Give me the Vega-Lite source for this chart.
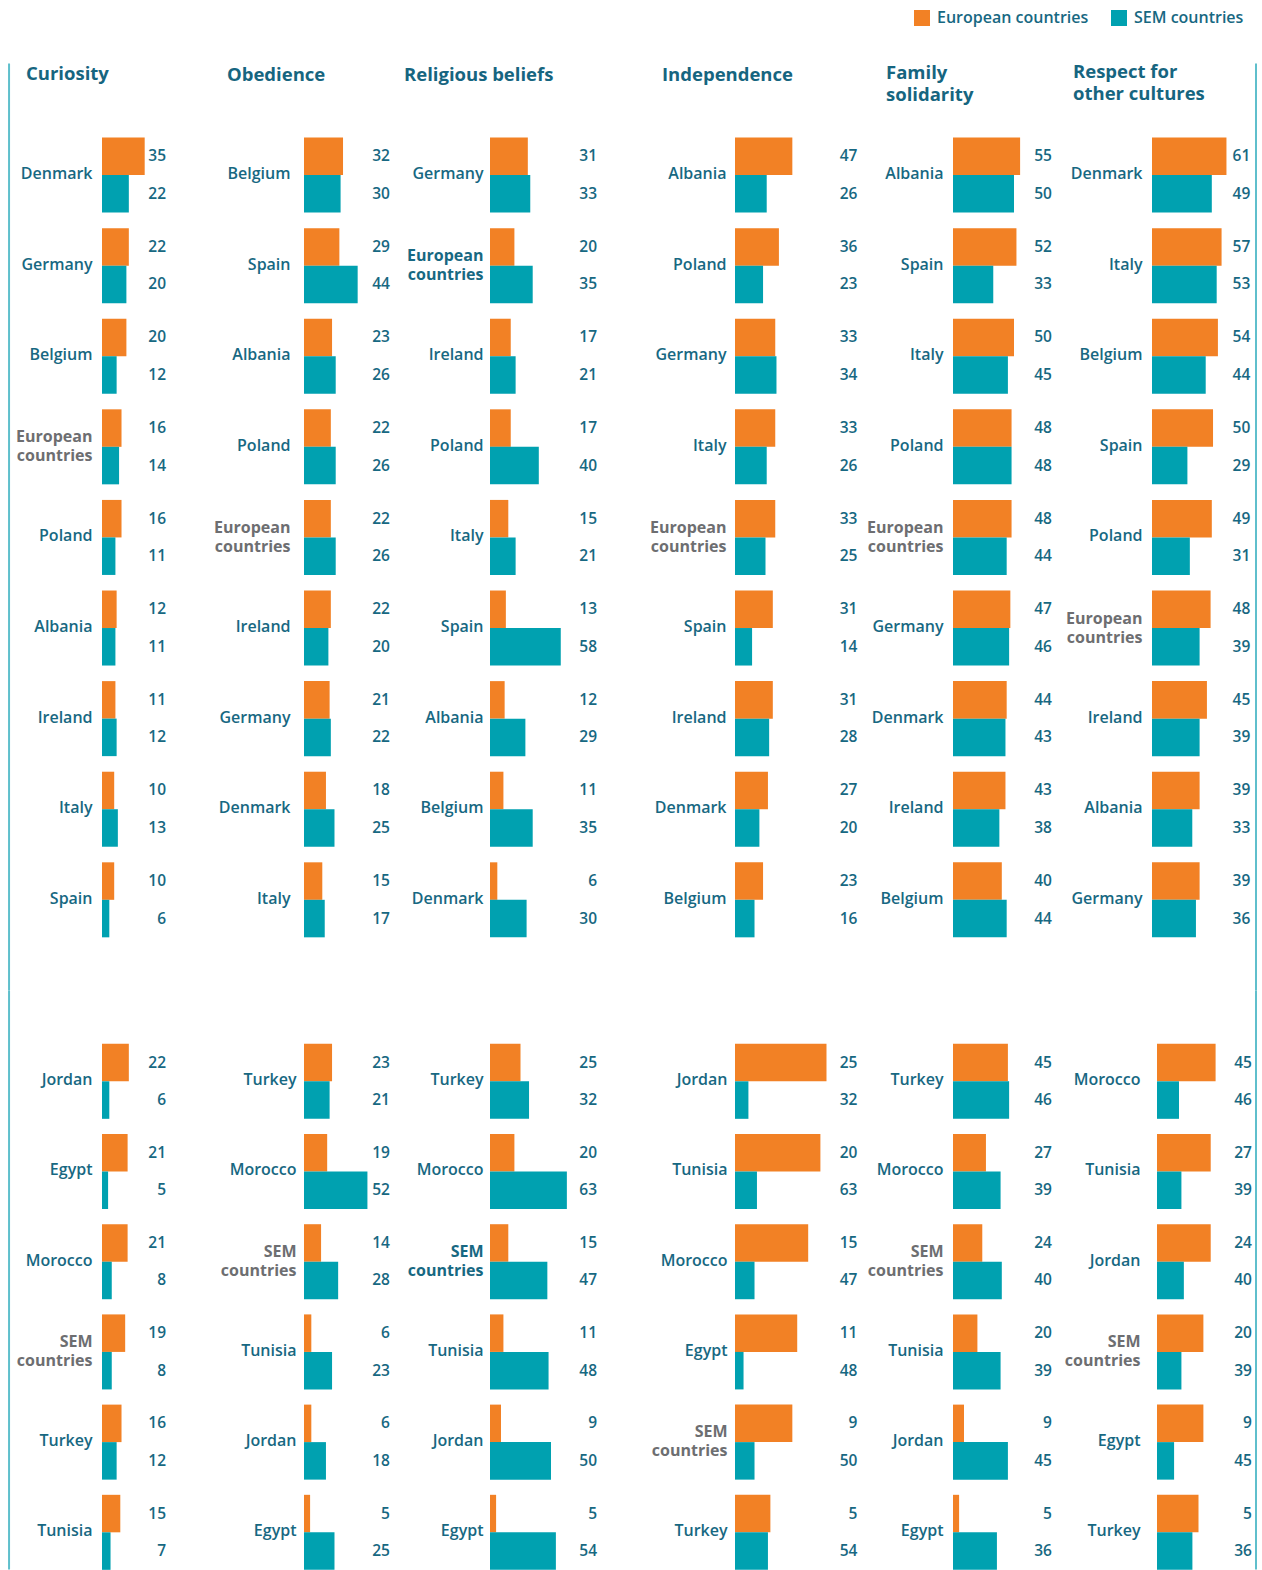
{
  "$schema": "https://vega.github.io/schema/vega-lite/v6.json",
  "padding": {"left": 8, "top": 9.5, "right": 0, "bottom": 0},
  "bounds": "flush",
  "align": "each",
  "columns": 6,
  "spacing": {"row": 0, "column": 0},
  "config": {
    "view": {"stroke": null},
    "legend": {"symbolType": "square", "symbolSize": 256, "symbolStrokeWidth": 0, "labelFont": "Open Sans", "labelFontSize": 16, "labelFontWeight": 600, "labelColor": "#176882", "labelOffset": 7, "columnPadding": 22, "padding": 0, "labelLimit": 400}
  },
  "datasets": {
    "rows": [
      {"attribute":"Curiosity","block":"EU","country":"Denmark","group":"European countries","value":35,"label":35},
      {"attribute":"Curiosity","block":"EU","country":"Denmark","group":"SEM countries","value":22,"label":22},
      {"attribute":"Curiosity","block":"EU","country":"Germany","group":"European countries","value":22,"label":22},
      {"attribute":"Curiosity","block":"EU","country":"Germany","group":"SEM countries","value":20,"label":20},
      {"attribute":"Curiosity","block":"EU","country":"Belgium","group":"European countries","value":20,"label":20},
      {"attribute":"Curiosity","block":"EU","country":"Belgium","group":"SEM countries","value":12,"label":12},
      {"attribute":"Curiosity","block":"EU","country":"European countries","group":"European countries","value":16,"label":16},
      {"attribute":"Curiosity","block":"EU","country":"European countries","group":"SEM countries","value":14,"label":14},
      {"attribute":"Curiosity","block":"EU","country":"Poland","group":"European countries","value":16,"label":16},
      {"attribute":"Curiosity","block":"EU","country":"Poland","group":"SEM countries","value":11,"label":11},
      {"attribute":"Curiosity","block":"EU","country":"Albania","group":"European countries","value":12,"label":12},
      {"attribute":"Curiosity","block":"EU","country":"Albania","group":"SEM countries","value":11,"label":11},
      {"attribute":"Curiosity","block":"EU","country":"Ireland","group":"European countries","value":11,"label":11},
      {"attribute":"Curiosity","block":"EU","country":"Ireland","group":"SEM countries","value":12,"label":12},
      {"attribute":"Curiosity","block":"EU","country":"Italy","group":"European countries","value":10,"label":10},
      {"attribute":"Curiosity","block":"EU","country":"Italy","group":"SEM countries","value":13,"label":13},
      {"attribute":"Curiosity","block":"EU","country":"Spain","group":"European countries","value":10,"label":10},
      {"attribute":"Curiosity","block":"EU","country":"Spain","group":"SEM countries","value":6,"label":6},

      {"attribute":"Obedience","block":"EU","country":"Belgium","group":"European countries","value":32,"label":32},
      {"attribute":"Obedience","block":"EU","country":"Belgium","group":"SEM countries","value":30,"label":30},
      {"attribute":"Obedience","block":"EU","country":"Spain","group":"European countries","value":29,"label":29},
      {"attribute":"Obedience","block":"EU","country":"Spain","group":"SEM countries","value":44,"label":44},
      {"attribute":"Obedience","block":"EU","country":"Albania","group":"European countries","value":23,"label":23},
      {"attribute":"Obedience","block":"EU","country":"Albania","group":"SEM countries","value":26,"label":26},
      {"attribute":"Obedience","block":"EU","country":"Poland","group":"European countries","value":22,"label":22},
      {"attribute":"Obedience","block":"EU","country":"Poland","group":"SEM countries","value":26,"label":26},
      {"attribute":"Obedience","block":"EU","country":"European countries","group":"European countries","value":22,"label":22},
      {"attribute":"Obedience","block":"EU","country":"European countries","group":"SEM countries","value":26,"label":26},
      {"attribute":"Obedience","block":"EU","country":"Ireland","group":"European countries","value":22,"label":22},
      {"attribute":"Obedience","block":"EU","country":"Ireland","group":"SEM countries","value":20,"label":20},
      {"attribute":"Obedience","block":"EU","country":"Germany","group":"European countries","value":21,"label":21},
      {"attribute":"Obedience","block":"EU","country":"Germany","group":"SEM countries","value":22,"label":22},
      {"attribute":"Obedience","block":"EU","country":"Denmark","group":"European countries","value":18,"label":18},
      {"attribute":"Obedience","block":"EU","country":"Denmark","group":"SEM countries","value":25,"label":25},
      {"attribute":"Obedience","block":"EU","country":"Italy","group":"European countries","value":15,"label":15},
      {"attribute":"Obedience","block":"EU","country":"Italy","group":"SEM countries","value":17,"label":17},

      {"attribute":"Religious beliefs","block":"EU","country":"Germany","group":"European countries","value":31,"label":31},
      {"attribute":"Religious beliefs","block":"EU","country":"Germany","group":"SEM countries","value":33,"label":33},
      {"attribute":"Religious beliefs","block":"EU","country":"European countries","group":"European countries","value":20,"label":20},
      {"attribute":"Religious beliefs","block":"EU","country":"European countries","group":"SEM countries","value":35,"label":35},
      {"attribute":"Religious beliefs","block":"EU","country":"Ireland","group":"European countries","value":17,"label":17},
      {"attribute":"Religious beliefs","block":"EU","country":"Ireland","group":"SEM countries","value":21,"label":21},
      {"attribute":"Religious beliefs","block":"EU","country":"Poland","group":"European countries","value":17,"label":17},
      {"attribute":"Religious beliefs","block":"EU","country":"Poland","group":"SEM countries","value":40,"label":40},
      {"attribute":"Religious beliefs","block":"EU","country":"Italy","group":"European countries","value":15,"label":15},
      {"attribute":"Religious beliefs","block":"EU","country":"Italy","group":"SEM countries","value":21,"label":21},
      {"attribute":"Religious beliefs","block":"EU","country":"Spain","group":"European countries","value":13,"label":13},
      {"attribute":"Religious beliefs","block":"EU","country":"Spain","group":"SEM countries","value":58,"label":58},
      {"attribute":"Religious beliefs","block":"EU","country":"Albania","group":"European countries","value":12,"label":12},
      {"attribute":"Religious beliefs","block":"EU","country":"Albania","group":"SEM countries","value":29,"label":29},
      {"attribute":"Religious beliefs","block":"EU","country":"Belgium","group":"European countries","value":11,"label":11},
      {"attribute":"Religious beliefs","block":"EU","country":"Belgium","group":"SEM countries","value":35,"label":35},
      {"attribute":"Religious beliefs","block":"EU","country":"Denmark","group":"European countries","value":6,"label":6},
      {"attribute":"Religious beliefs","block":"EU","country":"Denmark","group":"SEM countries","value":30,"label":30},

      {"attribute":"Independence","block":"EU","country":"Albania","group":"European countries","value":47,"label":47},
      {"attribute":"Independence","block":"EU","country":"Albania","group":"SEM countries","value":26,"label":26},
      {"attribute":"Independence","block":"EU","country":"Poland","group":"European countries","value":36,"label":36},
      {"attribute":"Independence","block":"EU","country":"Poland","group":"SEM countries","value":23,"label":23},
      {"attribute":"Independence","block":"EU","country":"Germany","group":"European countries","value":33,"label":33},
      {"attribute":"Independence","block":"EU","country":"Germany","group":"SEM countries","value":34,"label":34},
      {"attribute":"Independence","block":"EU","country":"Italy","group":"European countries","value":33,"label":33},
      {"attribute":"Independence","block":"EU","country":"Italy","group":"SEM countries","value":26,"label":26},
      {"attribute":"Independence","block":"EU","country":"European countries","group":"European countries","value":33,"label":33},
      {"attribute":"Independence","block":"EU","country":"European countries","group":"SEM countries","value":25,"label":25},
      {"attribute":"Independence","block":"EU","country":"Spain","group":"European countries","value":31,"label":31},
      {"attribute":"Independence","block":"EU","country":"Spain","group":"SEM countries","value":14,"label":14},
      {"attribute":"Independence","block":"EU","country":"Ireland","group":"European countries","value":31,"label":31},
      {"attribute":"Independence","block":"EU","country":"Ireland","group":"SEM countries","value":28,"label":28},
      {"attribute":"Independence","block":"EU","country":"Denmark","group":"European countries","value":27,"label":27},
      {"attribute":"Independence","block":"EU","country":"Denmark","group":"SEM countries","value":20,"label":20},
      {"attribute":"Independence","block":"EU","country":"Belgium","group":"European countries","value":23,"label":23},
      {"attribute":"Independence","block":"EU","country":"Belgium","group":"SEM countries","value":16,"label":16},

      {"attribute":"Family solidarity","block":"EU","country":"Albania","group":"European countries","value":55,"label":55},
      {"attribute":"Family solidarity","block":"EU","country":"Albania","group":"SEM countries","value":50,"label":50},
      {"attribute":"Family solidarity","block":"EU","country":"Spain","group":"European countries","value":52,"label":52},
      {"attribute":"Family solidarity","block":"EU","country":"Spain","group":"SEM countries","value":33,"label":33},
      {"attribute":"Family solidarity","block":"EU","country":"Italy","group":"European countries","value":50,"label":50},
      {"attribute":"Family solidarity","block":"EU","country":"Italy","group":"SEM countries","value":45,"label":45},
      {"attribute":"Family solidarity","block":"EU","country":"Poland","group":"European countries","value":48,"label":48},
      {"attribute":"Family solidarity","block":"EU","country":"Poland","group":"SEM countries","value":48,"label":48},
      {"attribute":"Family solidarity","block":"EU","country":"European countries","group":"European countries","value":48,"label":48},
      {"attribute":"Family solidarity","block":"EU","country":"European countries","group":"SEM countries","value":44,"label":44},
      {"attribute":"Family solidarity","block":"EU","country":"Germany","group":"European countries","value":47,"label":47},
      {"attribute":"Family solidarity","block":"EU","country":"Germany","group":"SEM countries","value":46,"label":46},
      {"attribute":"Family solidarity","block":"EU","country":"Denmark","group":"European countries","value":44,"label":44},
      {"attribute":"Family solidarity","block":"EU","country":"Denmark","group":"SEM countries","value":43,"label":43},
      {"attribute":"Family solidarity","block":"EU","country":"Ireland","group":"European countries","value":43,"label":43},
      {"attribute":"Family solidarity","block":"EU","country":"Ireland","group":"SEM countries","value":38,"label":38},
      {"attribute":"Family solidarity","block":"EU","country":"Belgium","group":"European countries","value":40,"label":40},
      {"attribute":"Family solidarity","block":"EU","country":"Belgium","group":"SEM countries","value":44,"label":44},

      {"attribute":"Respect for other cultures","block":"EU","country":"Denmark","group":"European countries","value":61,"label":61},
      {"attribute":"Respect for other cultures","block":"EU","country":"Denmark","group":"SEM countries","value":49,"label":49},
      {"attribute":"Respect for other cultures","block":"EU","country":"Italy","group":"European countries","value":57,"label":57},
      {"attribute":"Respect for other cultures","block":"EU","country":"Italy","group":"SEM countries","value":53,"label":53},
      {"attribute":"Respect for other cultures","block":"EU","country":"Belgium","group":"European countries","value":54,"label":54},
      {"attribute":"Respect for other cultures","block":"EU","country":"Belgium","group":"SEM countries","value":44,"label":44},
      {"attribute":"Respect for other cultures","block":"EU","country":"Spain","group":"European countries","value":50,"label":50},
      {"attribute":"Respect for other cultures","block":"EU","country":"Spain","group":"SEM countries","value":29,"label":29},
      {"attribute":"Respect for other cultures","block":"EU","country":"Poland","group":"European countries","value":49,"label":49},
      {"attribute":"Respect for other cultures","block":"EU","country":"Poland","group":"SEM countries","value":31,"label":31},
      {"attribute":"Respect for other cultures","block":"EU","country":"European countries","group":"European countries","value":48,"label":48},
      {"attribute":"Respect for other cultures","block":"EU","country":"European countries","group":"SEM countries","value":39,"label":39},
      {"attribute":"Respect for other cultures","block":"EU","country":"Ireland","group":"European countries","value":45,"label":45},
      {"attribute":"Respect for other cultures","block":"EU","country":"Ireland","group":"SEM countries","value":39,"label":39},
      {"attribute":"Respect for other cultures","block":"EU","country":"Albania","group":"European countries","value":39,"label":39},
      {"attribute":"Respect for other cultures","block":"EU","country":"Albania","group":"SEM countries","value":33,"label":33},
      {"attribute":"Respect for other cultures","block":"EU","country":"Germany","group":"European countries","value":39,"label":39},
      {"attribute":"Respect for other cultures","block":"EU","country":"Germany","group":"SEM countries","value":36,"label":36},

      {"attribute":"Curiosity","block":"SEM","country":"Jordan","group":"European countries","value":22,"label":22},
      {"attribute":"Curiosity","block":"SEM","country":"Jordan","group":"SEM countries","value":6,"label":6},
      {"attribute":"Curiosity","block":"SEM","country":"Egypt","group":"European countries","value":21,"label":21},
      {"attribute":"Curiosity","block":"SEM","country":"Egypt","group":"SEM countries","value":5,"label":5},
      {"attribute":"Curiosity","block":"SEM","country":"Morocco","group":"European countries","value":21,"label":21},
      {"attribute":"Curiosity","block":"SEM","country":"Morocco","group":"SEM countries","value":8,"label":8},
      {"attribute":"Curiosity","block":"SEM","country":"SEM countries","group":"European countries","value":19,"label":19},
      {"attribute":"Curiosity","block":"SEM","country":"SEM countries","group":"SEM countries","value":8,"label":8},
      {"attribute":"Curiosity","block":"SEM","country":"Turkey","group":"European countries","value":16,"label":16},
      {"attribute":"Curiosity","block":"SEM","country":"Turkey","group":"SEM countries","value":12,"label":12},
      {"attribute":"Curiosity","block":"SEM","country":"Tunisia","group":"European countries","value":15,"label":15},
      {"attribute":"Curiosity","block":"SEM","country":"Tunisia","group":"SEM countries","value":7,"label":7},

      {"attribute":"Obedience","block":"SEM","country":"Turkey","group":"European countries","value":23,"label":23},
      {"attribute":"Obedience","block":"SEM","country":"Turkey","group":"SEM countries","value":21,"label":21},
      {"attribute":"Obedience","block":"SEM","country":"Morocco","group":"European countries","value":19,"label":19},
      {"attribute":"Obedience","block":"SEM","country":"Morocco","group":"SEM countries","value":52,"label":52},
      {"attribute":"Obedience","block":"SEM","country":"SEM countries","group":"European countries","value":14,"label":14},
      {"attribute":"Obedience","block":"SEM","country":"SEM countries","group":"SEM countries","value":28,"label":28},
      {"attribute":"Obedience","block":"SEM","country":"Tunisia","group":"European countries","value":6,"label":6},
      {"attribute":"Obedience","block":"SEM","country":"Tunisia","group":"SEM countries","value":23,"label":23},
      {"attribute":"Obedience","block":"SEM","country":"Jordan","group":"European countries","value":6,"label":6},
      {"attribute":"Obedience","block":"SEM","country":"Jordan","group":"SEM countries","value":18,"label":18},
      {"attribute":"Obedience","block":"SEM","country":"Egypt","group":"European countries","value":5,"label":5},
      {"attribute":"Obedience","block":"SEM","country":"Egypt","group":"SEM countries","value":25,"label":25},

      {"attribute":"Religious beliefs","block":"SEM","country":"Turkey","group":"European countries","value":25,"label":25},
      {"attribute":"Religious beliefs","block":"SEM","country":"Turkey","group":"SEM countries","value":32,"label":32},
      {"attribute":"Religious beliefs","block":"SEM","country":"Morocco","group":"European countries","value":20,"label":20},
      {"attribute":"Religious beliefs","block":"SEM","country":"Morocco","group":"SEM countries","value":63,"label":63},
      {"attribute":"Religious beliefs","block":"SEM","country":"SEM countries","group":"European countries","value":15,"label":15},
      {"attribute":"Religious beliefs","block":"SEM","country":"SEM countries","group":"SEM countries","value":47,"label":47},
      {"attribute":"Religious beliefs","block":"SEM","country":"Tunisia","group":"European countries","value":11,"label":11},
      {"attribute":"Religious beliefs","block":"SEM","country":"Tunisia","group":"SEM countries","value":48,"label":48},
      {"attribute":"Religious beliefs","block":"SEM","country":"Jordan","group":"European countries","value":9,"label":9},
      {"attribute":"Religious beliefs","block":"SEM","country":"Jordan","group":"SEM countries","value":50,"label":50},
      {"attribute":"Religious beliefs","block":"SEM","country":"Egypt","group":"European countries","value":5,"label":5},
      {"attribute":"Religious beliefs","block":"SEM","country":"Egypt","group":"SEM countries","value":54,"label":54},

      {"attribute":"Independence","block":"SEM","country":"Jordan","group":"European countries","value":75,"label":25},
      {"attribute":"Independence","block":"SEM","country":"Jordan","group":"SEM countries","value":11,"label":32},
      {"attribute":"Independence","block":"SEM","country":"Tunisia","group":"European countries","value":70,"label":20},
      {"attribute":"Independence","block":"SEM","country":"Tunisia","group":"SEM countries","value":18,"label":63},
      {"attribute":"Independence","block":"SEM","country":"Morocco","group":"European countries","value":60,"label":15},
      {"attribute":"Independence","block":"SEM","country":"Morocco","group":"SEM countries","value":16,"label":47},
      {"attribute":"Independence","block":"SEM","country":"Egypt","group":"European countries","value":51,"label":11},
      {"attribute":"Independence","block":"SEM","country":"Egypt","group":"SEM countries","value":7,"label":48},
      {"attribute":"Independence","block":"SEM","country":"SEM countries","group":"European countries","value":47,"label":9},
      {"attribute":"Independence","block":"SEM","country":"SEM countries","group":"SEM countries","value":16,"label":50},
      {"attribute":"Independence","block":"SEM","country":"Turkey","group":"European countries","value":29,"label":5},
      {"attribute":"Independence","block":"SEM","country":"Turkey","group":"SEM countries","value":27,"label":54},

      {"attribute":"Family solidarity","block":"SEM","country":"Turkey","group":"European countries","value":45,"label":45},
      {"attribute":"Family solidarity","block":"SEM","country":"Turkey","group":"SEM countries","value":46,"label":46},
      {"attribute":"Family solidarity","block":"SEM","country":"Morocco","group":"European countries","value":27,"label":27},
      {"attribute":"Family solidarity","block":"SEM","country":"Morocco","group":"SEM countries","value":39,"label":39},
      {"attribute":"Family solidarity","block":"SEM","country":"SEM countries","group":"European countries","value":24,"label":24},
      {"attribute":"Family solidarity","block":"SEM","country":"SEM countries","group":"SEM countries","value":40,"label":40},
      {"attribute":"Family solidarity","block":"SEM","country":"Tunisia","group":"European countries","value":20,"label":20},
      {"attribute":"Family solidarity","block":"SEM","country":"Tunisia","group":"SEM countries","value":39,"label":39},
      {"attribute":"Family solidarity","block":"SEM","country":"Jordan","group":"European countries","value":9,"label":9},
      {"attribute":"Family solidarity","block":"SEM","country":"Jordan","group":"SEM countries","value":45,"label":45},
      {"attribute":"Family solidarity","block":"SEM","country":"Egypt","group":"European countries","value":5,"label":5},
      {"attribute":"Family solidarity","block":"SEM","country":"Egypt","group":"SEM countries","value":36,"label":36},

      {"attribute":"Respect for other cultures","block":"SEM","country":"Morocco","group":"European countries","value":48,"label":45},
      {"attribute":"Respect for other cultures","block":"SEM","country":"Morocco","group":"SEM countries","value":18,"label":46},
      {"attribute":"Respect for other cultures","block":"SEM","country":"Tunisia","group":"European countries","value":44,"label":27},
      {"attribute":"Respect for other cultures","block":"SEM","country":"Tunisia","group":"SEM countries","value":20,"label":39},
      {"attribute":"Respect for other cultures","block":"SEM","country":"Jordan","group":"European countries","value":44,"label":24},
      {"attribute":"Respect for other cultures","block":"SEM","country":"Jordan","group":"SEM countries","value":22,"label":40},
      {"attribute":"Respect for other cultures","block":"SEM","country":"SEM countries","group":"European countries","value":38,"label":20},
      {"attribute":"Respect for other cultures","block":"SEM","country":"SEM countries","group":"SEM countries","value":20,"label":39},
      {"attribute":"Respect for other cultures","block":"SEM","country":"Egypt","group":"European countries","value":38,"label":9},
      {"attribute":"Respect for other cultures","block":"SEM","country":"Egypt","group":"SEM countries","value":14,"label":45},
      {"attribute":"Respect for other cultures","block":"SEM","country":"Turkey","group":"European countries","value":34,"label":5},
      {"attribute":"Respect for other cultures","block":"SEM","country":"Turkey","group":"SEM countries","value":29,"label":36}
    ]
  },
  "concat": [
    {
      "width": 202, "height": 927,
      "title": {"text": "Curiosity", "anchor": "start", "frame": "group", "orient": "top", "offset": 0, "dx": -76, "dy": 20.5, "font": "Open Sans", "fontSize": 18.5, "fontWeight": 700, "color": "#166580", "lineHeight": 22},
      "layer": [
        {
          "data": {"name": "rows"},
          "transform": [{"filter": "datum.attribute == 'Curiosity' && datum.block == 'EU'"}],
          "encoding": {
            "y": {"field": "country", "type": "nominal", "sort": null, "scale": {"paddingInner": 0.172, "paddingOuter": 0.702, "align": 0.582},
              "axis": {"title": null, "domain": false, "ticks": false, "grid": false, "labelPadding": 10, "labelFont": "Open Sans", "labelFontSize": 16, "labelFontWeight": {"condition": {"test": "datum.label == 'European countries' || datum.label == 'SEM countries'", "value": 700}, "value": 600}, "labelOffset": {"condition": {"test": "datum.label == 'European countries' || datum.label == 'SEM countries'", "value": -9.5}, "value": -1}, "labelLimit": 300, "labelLineHeight": 19, "labelColor": {"condition": {"test": "datum.label == 'European countries' || datum.label == 'SEM countries'", "value": "#6d6e71"}, "value": "#176882"}, "labelExpr": "datum.label == 'European countries' ? ['European', 'countries'] : datum.label == 'SEM countries' ? ['SEM', 'countries'] : datum.label"}},
            "yOffset": {"field": "group", "type": "nominal", "sort": ["European countries", "SEM countries"], "scale": {"paddingInner": 0, "paddingOuter": 0}}
          },
          "layer": [
            {"mark": {"type": "bar"}, "encoding": {"x": {"field": "value", "type": "quantitative", "scale": {"domain": [0, 165.6], "nice": false, "zero": true}, "axis": null}, "color": {"field": "group", "type": "nominal", "scale": {"domain": ["European countries", "SEM countries"], "range": ["#f28125", "#00a1b0"]}, "legend": {"title": null, "orient": "none", "legendX": 812, "legendY": -53.5, "direction": "horizontal"}}}},
            {"mark": {"type": "text", "align": "right", "baseline": "middle", "font": "Open Sans", "fontSize": 15.5, "fontWeight": 600, "color": "#176882"}, "encoding": {"x": {"datum": 52.5, "type": "quantitative", "axis": null}, "text": {"field": "label", "type": "quantitative"}}}
          ]
        },
        {"data": {"values": [{}]}, "mark": {"type": "rule", "color": "#5fbfcc", "strokeWidth": 2}, "encoding": {"x": {"datum": -76.2, "type": "quantitative", "axis": null}}}
      ]
    },
    {
      "width": 186, "height": 927,
      "title": {"text": "Obedience", "anchor": "start", "frame": "group", "orient": "top", "offset": 0, "dx": -77, "dy": 20.5, "font": "Open Sans", "fontSize": 18.5, "fontWeight": 700, "color": "#166580", "lineHeight": 22},
      "data": {"name": "rows"},
      "transform": [{"filter": "datum.attribute == 'Obedience' && datum.block == 'EU'"}],
      "encoding": {
        "y": {"field": "country", "type": "nominal", "sort": null, "scale": {"paddingInner": 0.172, "paddingOuter": 0.702, "align": 0.582},
          "axis": {"title": null, "domain": false, "ticks": false, "grid": false, "labelPadding": 14, "labelFont": "Open Sans", "labelFontSize": 16, "labelFontWeight": {"condition": {"test": "datum.label == 'European countries' || datum.label == 'SEM countries'", "value": 700}, "value": 600}, "labelOffset": {"condition": {"test": "datum.label == 'European countries' || datum.label == 'SEM countries'", "value": -9.5}, "value": -1}, "labelLimit": 300, "labelLineHeight": 19, "labelColor": {"condition": {"test": "datum.label == 'European countries' || datum.label == 'SEM countries'", "value": "#6d6e71"}, "value": "#176882"}, "labelExpr": "datum.label == 'European countries' ? ['European', 'countries'] : datum.label == 'SEM countries' ? ['SEM', 'countries'] : datum.label"}},
        "yOffset": {"field": "group", "type": "nominal", "sort": ["European countries", "SEM countries"], "scale": {"paddingInner": 0, "paddingOuter": 0}}
      },
      "layer": [
        {"mark": {"type": "bar"}, "encoding": {"x": {"field": "value", "type": "quantitative", "scale": {"domain": [0, 152.5], "nice": false, "zero": true}, "axis": null}, "color": {"field": "group", "type": "nominal", "scale": {"domain": ["European countries", "SEM countries"], "range": ["#f28125", "#00a1b0"]}, "legend": {"title": null, "orient": "none", "legendX": 812, "legendY": -53.5, "direction": "horizontal"}}}},
        {"mark": {"type": "text", "align": "right", "baseline": "middle", "font": "Open Sans", "fontSize": 15.5, "fontWeight": 600, "color": "#176882"}, "encoding": {"x": {"datum": 70.5, "type": "quantitative", "axis": null}, "text": {"field": "label", "type": "quantitative"}}}
      ]
    },
    {
      "width": 245, "height": 927,
      "title": {"text": "Religious beliefs", "anchor": "start", "frame": "group", "orient": "top", "offset": 0, "dx": -86, "dy": 20.5, "font": "Open Sans", "fontSize": 18.5, "fontWeight": 700, "color": "#166580", "lineHeight": 22},
      "data": {"name": "rows"},
      "transform": [{"filter": "datum.attribute == 'Religious beliefs' && datum.block == 'EU'"}],
      "encoding": {
        "y": {"field": "country", "type": "nominal", "sort": null, "scale": {"paddingInner": 0.172, "paddingOuter": 0.702, "align": 0.582},
          "axis": {"title": null, "domain": false, "ticks": false, "grid": false, "labelPadding": 7, "labelFont": "Open Sans", "labelFontSize": 16, "labelFontWeight": {"condition": {"test": "datum.label == 'European countries' || datum.label == 'SEM countries'", "value": 700}, "value": 600}, "labelOffset": {"condition": {"test": "datum.label == 'European countries' || datum.label == 'SEM countries'", "value": -9.5}, "value": -1}, "labelLimit": 300, "labelLineHeight": 19, "labelColor": "#176882", "labelExpr": "datum.label == 'European countries' ? ['European', 'countries'] : datum.label == 'SEM countries' ? ['SEM', 'countries'] : datum.label"}},
        "yOffset": {"field": "group", "type": "nominal", "sort": ["European countries", "SEM countries"], "scale": {"paddingInner": 0, "paddingOuter": 0}}
      },
      "layer": [
        {"mark": {"type": "bar"}, "encoding": {"x": {"field": "value", "type": "quantitative", "scale": {"domain": [0, 200.8], "nice": false, "zero": true}, "axis": null}, "color": {"field": "group", "type": "nominal", "scale": {"domain": ["European countries", "SEM countries"], "range": ["#f28125", "#00a1b0"]}, "legend": {"title": null, "orient": "none", "legendX": 812, "legendY": -53.5, "direction": "horizontal"}}}},
        {"mark": {"type": "text", "align": "right", "baseline": "middle", "font": "Open Sans", "fontSize": 15.5, "fontWeight": 600, "color": "#176882"}, "encoding": {"x": {"datum": 87.7, "type": "quantitative", "axis": null}, "text": {"field": "label", "type": "quantitative"}}}
      ]
    },
    {
      "width": 218, "height": 927,
      "title": {"text": "Independence", "anchor": "start", "frame": "group", "orient": "top", "offset": 0, "dx": -73, "dy": 20.5, "font": "Open Sans", "fontSize": 18.5, "fontWeight": 700, "color": "#166580", "lineHeight": 22},
      "data": {"name": "rows"},
      "transform": [{"filter": "datum.attribute == 'Independence' && datum.block == 'EU'"}],
      "encoding": {
        "y": {"field": "country", "type": "nominal", "sort": null, "scale": {"paddingInner": 0.172, "paddingOuter": 0.702, "align": 0.582},
          "axis": {"title": null, "domain": false, "ticks": false, "grid": false, "labelPadding": 9, "labelFont": "Open Sans", "labelFontSize": 16, "labelFontWeight": {"condition": {"test": "datum.label == 'European countries' || datum.label == 'SEM countries'", "value": 700}, "value": 600}, "labelOffset": {"condition": {"test": "datum.label == 'European countries' || datum.label == 'SEM countries'", "value": -9.5}, "value": -1}, "labelLimit": 300, "labelLineHeight": 19, "labelColor": {"condition": {"test": "datum.label == 'European countries' || datum.label == 'SEM countries'", "value": "#6d6e71"}, "value": "#176882"}, "labelExpr": "datum.label == 'European countries' ? ['European', 'countries'] : datum.label == 'SEM countries' ? ['SEM', 'countries'] : datum.label"}},
        "yOffset": {"field": "group", "type": "nominal", "sort": ["European countries", "SEM countries"], "scale": {"paddingInner": 0, "paddingOuter": 0}}
      },
      "layer": [
        {"mark": {"type": "bar"}, "encoding": {"x": {"field": "value", "type": "quantitative", "scale": {"domain": [0, 178.7], "nice": false, "zero": true}, "axis": null}, "color": {"field": "group", "type": "nominal", "scale": {"domain": ["European countries", "SEM countries"], "range": ["#f28125", "#00a1b0"]}, "legend": {"title": null, "orient": "none", "legendX": 812, "legendY": -53.5, "direction": "horizontal"}}}},
        {"mark": {"type": "text", "align": "right", "baseline": "middle", "font": "Open Sans", "fontSize": 15.5, "fontWeight": 600, "color": "#176882"}, "encoding": {"x": {"datum": 100.4, "type": "quantitative", "axis": null}, "text": {"field": "label", "type": "quantitative"}}}
      ]
    },
    {
      "width": 199, "height": 927,
      "title": {"text": ["Family", "solidarity"], "anchor": "start", "frame": "group", "orient": "top", "offset": 0, "dx": -67, "dy": 41, "font": "Open Sans", "fontSize": 18.5, "fontWeight": 700, "color": "#166580", "lineHeight": 22},
      "data": {"name": "rows"},
      "transform": [{"filter": "datum.attribute == 'Family solidarity' && datum.block == 'EU'"}],
      "encoding": {
        "y": {"field": "country", "type": "nominal", "sort": null, "scale": {"paddingInner": 0.172, "paddingOuter": 0.702, "align": 0.582},
          "axis": {"title": null, "domain": false, "ticks": false, "grid": false, "labelPadding": 10, "labelFont": "Open Sans", "labelFontSize": 16, "labelFontWeight": {"condition": {"test": "datum.label == 'European countries' || datum.label == 'SEM countries'", "value": 700}, "value": 600}, "labelOffset": {"condition": {"test": "datum.label == 'European countries' || datum.label == 'SEM countries'", "value": -9.5}, "value": -1}, "labelLimit": 300, "labelLineHeight": 19, "labelColor": {"condition": {"test": "datum.label == 'European countries' || datum.label == 'SEM countries'", "value": "#6d6e71"}, "value": "#176882"}, "labelExpr": "datum.label == 'European countries' ? ['European', 'countries'] : datum.label == 'SEM countries' ? ['SEM', 'countries'] : datum.label"}},
        "yOffset": {"field": "group", "type": "nominal", "sort": ["European countries", "SEM countries"], "scale": {"paddingInner": 0, "paddingOuter": 0}}
      },
      "layer": [
        {"mark": {"type": "bar"}, "encoding": {"x": {"field": "value", "type": "quantitative", "scale": {"domain": [0, 163.1], "nice": false, "zero": true}, "axis": null}, "color": {"field": "group", "type": "nominal", "scale": {"domain": ["European countries", "SEM countries"], "range": ["#f28125", "#00a1b0"]}, "legend": {"title": null, "orient": "none", "legendX": 812, "legendY": -53.5, "direction": "horizontal"}}}},
        {"mark": {"type": "text", "align": "right", "baseline": "middle", "font": "Open Sans", "fontSize": 15.5, "fontWeight": 600, "color": "#176882"}, "encoding": {"x": {"datum": 81.1, "type": "quantitative", "axis": null}, "text": {"field": "label", "type": "quantitative"}}}
      ]
    },
    {
      "width": 104, "height": 927,
      "title": {"text": ["Respect for", "other cultures"], "anchor": "start", "frame": "group", "orient": "top", "offset": 0, "dx": -79, "dy": 41, "font": "Open Sans", "fontSize": 18.5, "fontWeight": 700, "color": "#166580", "lineHeight": 22},
      "layer": [
        {
          "data": {"name": "rows"},
          "transform": [{"filter": "datum.attribute == 'Respect for other cultures' && datum.block == 'EU'"}],
          "encoding": {
            "y": {"field": "country", "type": "nominal", "sort": null, "scale": {"paddingInner": 0.172, "paddingOuter": 0.702, "align": 0.582},
              "axis": {"title": null, "domain": false, "ticks": false, "grid": false, "labelPadding": 10, "labelFont": "Open Sans", "labelFontSize": 16, "labelFontWeight": {"condition": {"test": "datum.label == 'European countries' || datum.label == 'SEM countries'", "value": 700}, "value": 600}, "labelOffset": {"condition": {"test": "datum.label == 'European countries' || datum.label == 'SEM countries'", "value": -9.5}, "value": -1}, "labelLimit": 300, "labelLineHeight": 19, "labelColor": {"condition": {"test": "datum.label == 'European countries' || datum.label == 'SEM countries'", "value": "#6d6e71"}, "value": "#176882"}, "labelExpr": "datum.label == 'European countries' ? ['European', 'countries'] : datum.label == 'SEM countries' ? ['SEM', 'countries'] : datum.label"}},
            "yOffset": {"field": "group", "type": "nominal", "sort": ["European countries", "SEM countries"], "scale": {"paddingInner": 0, "paddingOuter": 0}}
          },
          "layer": [
            {"mark": {"type": "bar"}, "encoding": {"x": {"field": "value", "type": "quantitative", "scale": {"domain": [0, 85.2], "nice": false, "zero": true}, "axis": null}, "color": {"field": "group", "type": "nominal", "scale": {"domain": ["European countries", "SEM countries"], "range": ["#f28125", "#00a1b0"]}, "legend": {"title": null, "orient": "none", "legendX": 812, "legendY": -53.5, "direction": "horizontal"}}}},
            {"mark": {"type": "text", "align": "right", "baseline": "middle", "font": "Open Sans", "fontSize": 15.5, "fontWeight": 600, "color": "#176882"}, "encoding": {"x": {"datum": 80.5, "type": "quantitative", "axis": null}, "text": {"field": "label", "type": "quantitative"}}}
          ]
        },
        {"data": {"values": [{}]}, "mark": {"type": "rule", "color": "#5fbfcc", "strokeWidth": 2}, "encoding": {"x": {"datum": 85.2, "type": "quantitative", "axis": null}}}
      ]
    },

    {
      "width": 202, "height": 579,
      "layer": [
        {
          "data": {"name": "rows"},
          "transform": [{"filter": "datum.attribute == 'Curiosity' && datum.block == 'SEM'"}],
          "encoding": {
            "y": {"field": "country", "type": "nominal", "sort": null, "scale": {"paddingInner": 0.172, "paddingOuter": 0.2955, "align": 1},
              "axis": {"title": null, "domain": false, "ticks": false, "grid": false, "labelPadding": 10, "labelFont": "Open Sans", "labelFontSize": 16, "labelFontWeight": {"condition": {"test": "datum.label == 'European countries' || datum.label == 'SEM countries'", "value": 700}, "value": 600}, "labelOffset": {"condition": {"test": "datum.label == 'European countries' || datum.label == 'SEM countries'", "value": -9.5}, "value": -1}, "labelLimit": 300, "labelLineHeight": 19, "labelColor": {"condition": {"test": "datum.label == 'European countries' || datum.label == 'SEM countries'", "value": "#6d6e71"}, "value": "#176882"}, "labelExpr": "datum.label == 'European countries' ? ['European', 'countries'] : datum.label == 'SEM countries' ? ['SEM', 'countries'] : datum.label"}},
            "yOffset": {"field": "group", "type": "nominal", "sort": ["European countries", "SEM countries"], "scale": {"paddingInner": 0, "paddingOuter": 0}}
          },
          "layer": [
            {"mark": {"type": "bar"}, "encoding": {"x": {"field": "value", "type": "quantitative", "scale": {"domain": [0, 165.6], "nice": false, "zero": true}, "axis": null}, "color": {"field": "group", "type": "nominal", "scale": {"domain": ["European countries", "SEM countries"], "range": ["#f28125", "#00a1b0"]}, "legend": {"title": null, "orient": "none", "legendX": 812, "legendY": -53.5, "direction": "horizontal"}}}},
            {"mark": {"type": "text", "align": "right", "baseline": "middle", "font": "Open Sans", "fontSize": 15.5, "fontWeight": 600, "color": "#176882"}, "encoding": {"x": {"datum": 52.5, "type": "quantitative", "axis": null}, "text": {"field": "label", "type": "quantitative"}}}
          ]
        },
        {"data": {"values": [{}]}, "mark": {"type": "rule", "color": "#5fbfcc", "strokeWidth": 2}, "encoding": {"x": {"datum": -76.2, "type": "quantitative", "axis": null}}}
      ]
    },
    {
      "width": 186, "height": 579,
      "data": {"name": "rows"},
      "transform": [{"filter": "datum.attribute == 'Obedience' && datum.block == 'SEM'"}],
      "encoding": {
        "y": {"field": "country", "type": "nominal", "sort": null, "scale": {"paddingInner": 0.172, "paddingOuter": 0.2955, "align": 1},
          "axis": {"title": null, "domain": false, "ticks": false, "grid": false, "labelPadding": 8, "labelFont": "Open Sans", "labelFontSize": 16, "labelFontWeight": {"condition": {"test": "datum.label == 'European countries' || datum.label == 'SEM countries'", "value": 700}, "value": 600}, "labelOffset": {"condition": {"test": "datum.label == 'European countries' || datum.label == 'SEM countries'", "value": -9.5}, "value": -1}, "labelLimit": 300, "labelLineHeight": 19, "labelColor": {"condition": {"test": "datum.label == 'European countries' || datum.label == 'SEM countries'", "value": "#6d6e71"}, "value": "#176882"}, "labelExpr": "datum.label == 'European countries' ? ['European', 'countries'] : datum.label == 'SEM countries' ? ['SEM', 'countries'] : datum.label"}},
        "yOffset": {"field": "group", "type": "nominal", "sort": ["European countries", "SEM countries"], "scale": {"paddingInner": 0, "paddingOuter": 0}}
      },
      "layer": [
        {"mark": {"type": "bar"}, "encoding": {"x": {"field": "value", "type": "quantitative", "scale": {"domain": [0, 152.5], "nice": false, "zero": true}, "axis": null}, "color": {"field": "group", "type": "nominal", "scale": {"domain": ["European countries", "SEM countries"], "range": ["#f28125", "#00a1b0"]}, "legend": {"title": null, "orient": "none", "legendX": 812, "legendY": -53.5, "direction": "horizontal"}}}},
        {"mark": {"type": "text", "align": "right", "baseline": "middle", "font": "Open Sans", "fontSize": 15.5, "fontWeight": 600, "color": "#176882"}, "encoding": {"x": {"datum": 70.5, "type": "quantitative", "axis": null}, "text": {"field": "label", "type": "quantitative"}}}
      ]
    },
    {
      "width": 245, "height": 579,
      "data": {"name": "rows"},
      "transform": [{"filter": "datum.attribute == 'Religious beliefs' && datum.block == 'SEM'"}],
      "encoding": {
        "y": {"field": "country", "type": "nominal", "sort": null, "scale": {"paddingInner": 0.172, "paddingOuter": 0.2955, "align": 1},
          "axis": {"title": null, "domain": false, "ticks": false, "grid": false, "labelPadding": 7, "labelFont": "Open Sans", "labelFontSize": 16, "labelFontWeight": {"condition": {"test": "datum.label == 'European countries' || datum.label == 'SEM countries'", "value": 700}, "value": 600}, "labelOffset": {"condition": {"test": "datum.label == 'European countries' || datum.label == 'SEM countries'", "value": -9.5}, "value": -1}, "labelLimit": 300, "labelLineHeight": 19, "labelColor": "#176882", "labelExpr": "datum.label == 'European countries' ? ['European', 'countries'] : datum.label == 'SEM countries' ? ['SEM', 'countries'] : datum.label"}},
        "yOffset": {"field": "group", "type": "nominal", "sort": ["European countries", "SEM countries"], "scale": {"paddingInner": 0, "paddingOuter": 0}}
      },
      "layer": [
        {"mark": {"type": "bar"}, "encoding": {"x": {"field": "value", "type": "quantitative", "scale": {"domain": [0, 200.8], "nice": false, "zero": true}, "axis": null}, "color": {"field": "group", "type": "nominal", "scale": {"domain": ["European countries", "SEM countries"], "range": ["#f28125", "#00a1b0"]}, "legend": {"title": null, "orient": "none", "legendX": 812, "legendY": -53.5, "direction": "horizontal"}}}},
        {"mark": {"type": "text", "align": "right", "baseline": "middle", "font": "Open Sans", "fontSize": 15.5, "fontWeight": 600, "color": "#176882"}, "encoding": {"x": {"datum": 87.7, "type": "quantitative", "axis": null}, "text": {"field": "label", "type": "quantitative"}}}
      ]
    },
    {
      "width": 218, "height": 579,
      "data": {"name": "rows"},
      "transform": [{"filter": "datum.attribute == 'Independence' && datum.block == 'SEM'"}],
      "encoding": {
        "y": {"field": "country", "type": "nominal", "sort": null, "scale": {"paddingInner": 0.172, "paddingOuter": 0.2955, "align": 1},
          "axis": {"title": null, "domain": false, "ticks": false, "grid": false, "labelPadding": 8, "labelFont": "Open Sans", "labelFontSize": 16, "labelFontWeight": {"condition": {"test": "datum.label == 'European countries' || datum.label == 'SEM countries'", "value": 700}, "value": 600}, "labelOffset": {"condition": {"test": "datum.label == 'European countries' || datum.label == 'SEM countries'", "value": -9.5}, "value": -1}, "labelLimit": 300, "labelLineHeight": 19, "labelColor": {"condition": {"test": "datum.label == 'European countries' || datum.label == 'SEM countries'", "value": "#6d6e71"}, "value": "#176882"}, "labelExpr": "datum.label == 'European countries' ? ['European', 'countries'] : datum.label == 'SEM countries' ? ['SEM', 'countries'] : datum.label"}},
        "yOffset": {"field": "group", "type": "nominal", "sort": ["European countries", "SEM countries"], "scale": {"paddingInner": 0, "paddingOuter": 0}}
      },
      "layer": [
        {"mark": {"type": "bar"}, "encoding": {"x": {"field": "value", "type": "quantitative", "scale": {"domain": [0, 178.7], "nice": false, "zero": true}, "axis": null}, "color": {"field": "group", "type": "nominal", "scale": {"domain": ["European countries", "SEM countries"], "range": ["#f28125", "#00a1b0"]}, "legend": {"title": null, "orient": "none", "legendX": 812, "legendY": -53.5, "direction": "horizontal"}}}},
        {"mark": {"type": "text", "align": "right", "baseline": "middle", "font": "Open Sans", "fontSize": 15.5, "fontWeight": 600, "color": "#176882"}, "encoding": {"x": {"datum": 100.4, "type": "quantitative", "axis": null}, "text": {"field": "label", "type": "quantitative"}}}
      ]
    },
    {
      "width": 199, "height": 579,
      "data": {"name": "rows"},
      "transform": [{"filter": "datum.attribute == 'Family solidarity' && datum.block == 'SEM'"}],
      "encoding": {
        "y": {"field": "country", "type": "nominal", "sort": null, "scale": {"paddingInner": 0.172, "paddingOuter": 0.2955, "align": 1},
          "axis": {"title": null, "domain": false, "ticks": false, "grid": false, "labelPadding": 10, "labelFont": "Open Sans", "labelFontSize": 16, "labelFontWeight": {"condition": {"test": "datum.label == 'European countries' || datum.label == 'SEM countries'", "value": 700}, "value": 600}, "labelOffset": {"condition": {"test": "datum.label == 'European countries' || datum.label == 'SEM countries'", "value": -9.5}, "value": -1}, "labelLimit": 300, "labelLineHeight": 19, "labelColor": {"condition": {"test": "datum.label == 'European countries' || datum.label == 'SEM countries'", "value": "#6d6e71"}, "value": "#176882"}, "labelExpr": "datum.label == 'European countries' ? ['European', 'countries'] : datum.label == 'SEM countries' ? ['SEM', 'countries'] : datum.label"}},
        "yOffset": {"field": "group", "type": "nominal", "sort": ["European countries", "SEM countries"], "scale": {"paddingInner": 0, "paddingOuter": 0}}
      },
      "layer": [
        {"mark": {"type": "bar"}, "encoding": {"x": {"field": "value", "type": "quantitative", "scale": {"domain": [0, 163.1], "nice": false, "zero": true}, "axis": null}, "color": {"field": "group", "type": "nominal", "scale": {"domain": ["European countries", "SEM countries"], "range": ["#f28125", "#00a1b0"]}, "legend": {"title": null, "orient": "none", "legendX": 812, "legendY": -53.5, "direction": "horizontal"}}}},
        {"mark": {"type": "text", "align": "right", "baseline": "middle", "font": "Open Sans", "fontSize": 15.5, "fontWeight": 600, "color": "#176882"}, "encoding": {"x": {"datum": 81.1, "type": "quantitative", "axis": null}, "text": {"field": "label", "type": "quantitative"}}}
      ]
    },
    {
      "width": 104, "height": 579,
      "layer": [
        {
          "data": {"name": "rows"},
          "transform": [{"filter": "datum.attribute == 'Respect for other cultures' && datum.block == 'SEM'"}],
          "encoding": {
            "y": {"field": "country", "type": "nominal", "sort": null, "scale": {"paddingInner": 0.172, "paddingOuter": 0.2955, "align": 1},
              "axis": {"title": null, "domain": false, "ticks": false, "grid": false, "labelPadding": 12, "labelFont": "Open Sans", "labelFontSize": 16, "labelFontWeight": {"condition": {"test": "datum.label == 'European countries' || datum.label == 'SEM countries'", "value": 700}, "value": 600}, "labelOffset": {"condition": {"test": "datum.label == 'European countries' || datum.label == 'SEM countries'", "value": -9.5}, "value": -1}, "labelLimit": 300, "labelLineHeight": 19, "labelColor": {"condition": {"test": "datum.label == 'European countries' || datum.label == 'SEM countries'", "value": "#6d6e71"}, "value": "#176882"}, "labelExpr": "datum.label == 'European countries' ? ['European', 'countries'] : datum.label == 'SEM countries' ? ['SEM', 'countries'] : datum.label"}},
            "yOffset": {"field": "group", "type": "nominal", "sort": ["European countries", "SEM countries"], "scale": {"paddingInner": 0, "paddingOuter": 0}}
          },
          "layer": [
            {"mark": {"type": "bar"}, "encoding": {"x": {"field": "value", "type": "quantitative", "scale": {"domain": [-4.1, 81.1], "nice": false, "zero": false}, "axis": null}, "color": {"field": "group", "type": "nominal", "scale": {"domain": ["European countries", "SEM countries"], "range": ["#f28125", "#00a1b0"]}, "legend": {"title": null, "orient": "none", "legendX": 812, "legendY": -53.5, "direction": "horizontal"}}}},
            {"mark": {"type": "text", "align": "right", "baseline": "middle", "font": "Open Sans", "fontSize": 15.5, "fontWeight": 600, "color": "#176882"}, "encoding": {"x": {"datum": 77.8, "type": "quantitative", "axis": null}, "text": {"field": "label", "type": "quantitative"}}}
          ]
        },
        {"data": {"values": [{}]}, "mark": {"type": "rule", "color": "#5fbfcc", "strokeWidth": 2}, "encoding": {"x": {"datum": 81.1, "type": "quantitative", "axis": null}}}
      ]
    }
  ]
}
